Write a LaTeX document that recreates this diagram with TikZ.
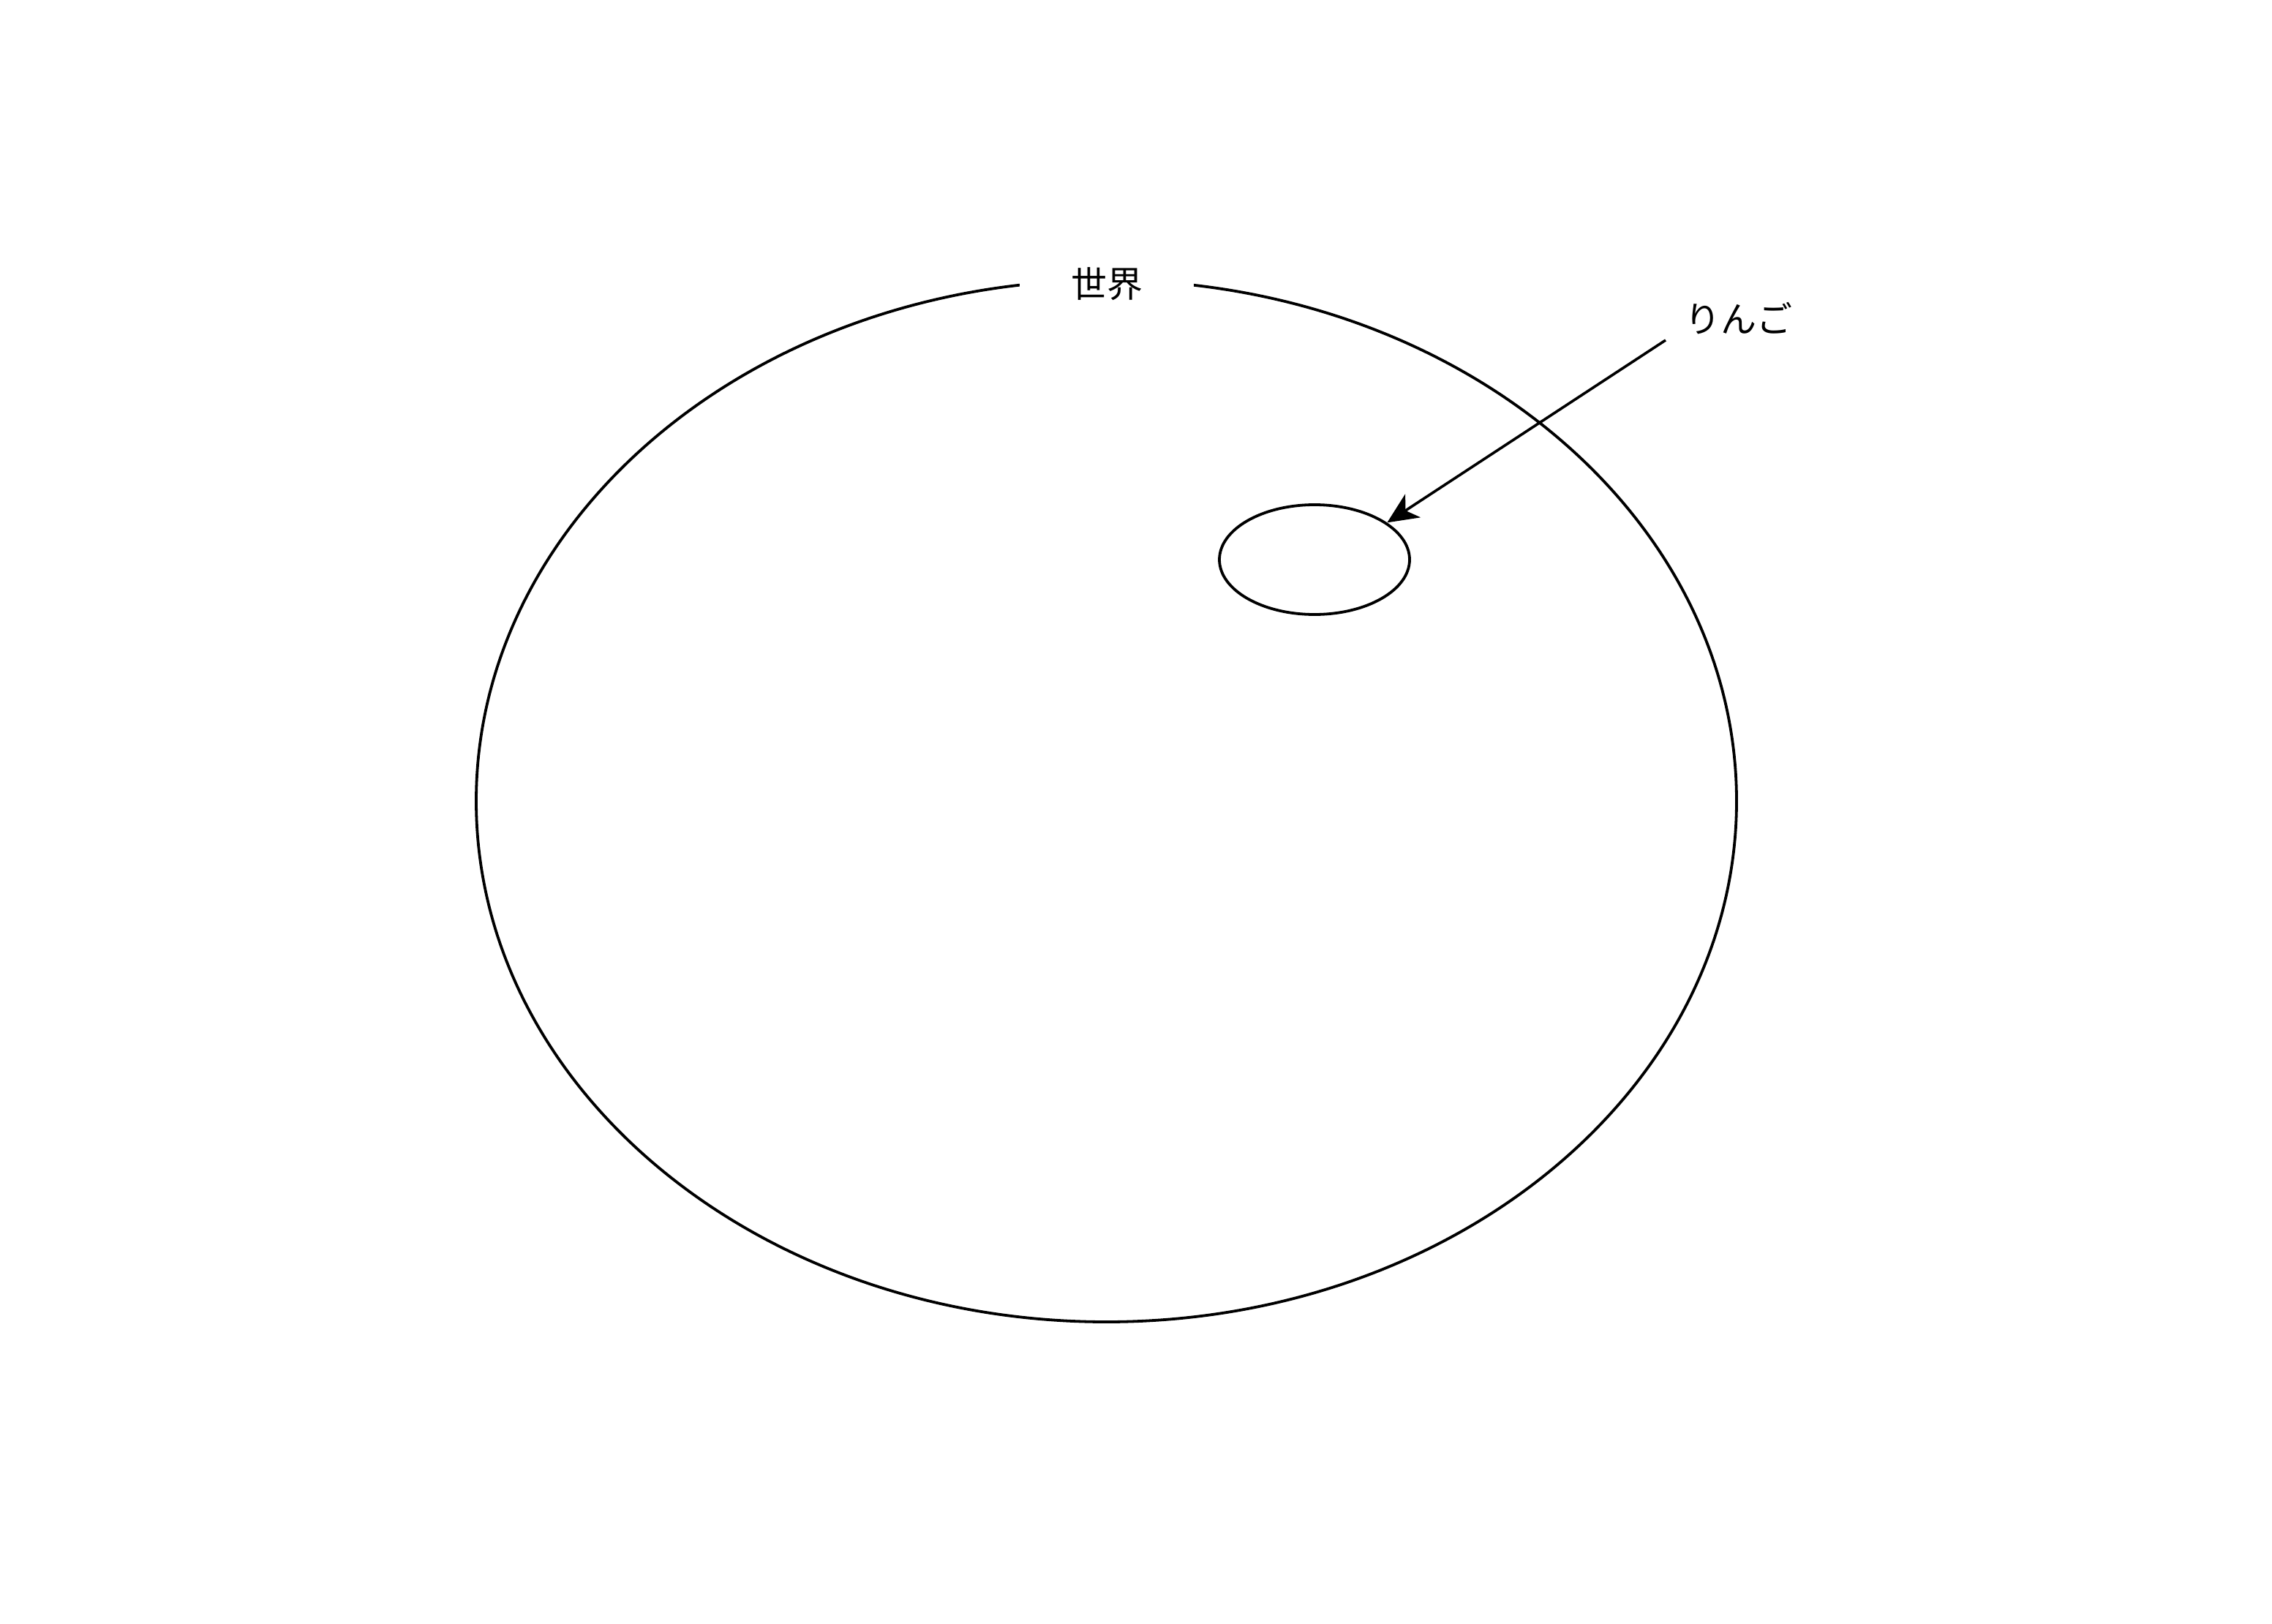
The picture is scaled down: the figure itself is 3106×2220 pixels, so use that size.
\documentclass[tikz,border=0pt]{standalone}
\usepackage{fontspec}
\newfontfamily\cjkfont{Noto Sans CJK JP}
\usetikzlibrary{arrows.meta,shapes.geometric}
\begin{document}
\begin{tikzpicture}[x=0.5pt,y=-0.5pt,
  shapeline/.style={draw=black,line width=1.9pt,ellipse,inner sep=0pt},
  lbl/.style={font=\cjkfont\fontsize{24.5}{28}\selectfont,inner sep=0pt},
  toplabel/.style={lbl,fill=white,minimum width=119pt,minimum height=20pt},
  pointer/.style={draw=black,line width=1.8pt,-{Stealth[length=21pt,width=19pt,inset=6pt]}}]
\useasboundingbox (0,0) rectangle (3106,2220);
\node[shapeline,minimum width=861.5pt,minimum height=712pt] (world) at (1512.5,1095) {};
\node[toplabel] (worldlbl) at (1513,388) {世界};
\node[shapeline,minimum width=130pt,minimum height=75pt] (apple) at (1797,765) {};
\node[lbl] (applelbl) at (2377,435) {りんご};
\coordinate (arrstart) at (2277,465);
\draw[pointer] (arrstart) -- (apple.27.5);
\end{tikzpicture}
\end{document}
